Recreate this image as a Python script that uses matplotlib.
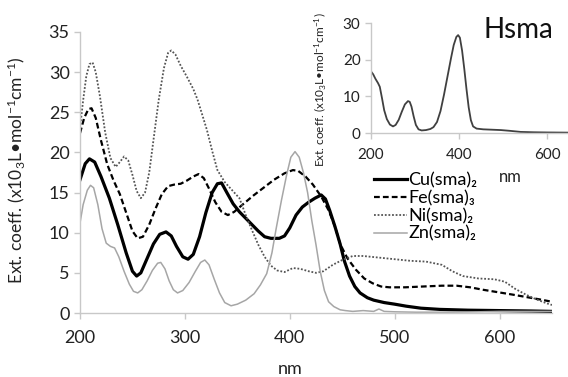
import matplotlib
matplotlib.use("Agg")
import matplotlib.pyplot as plt

plt.rcParams['font.family'] = ['Lato', 'DejaVu Sans']
plt.rcParams['mathtext.fontset'] = 'custom'
plt.rcParams['mathtext.rm'] = 'Lato'
plt.rcParams['mathtext.it'] = 'Lato'
plt.rcParams['mathtext.bf'] = 'Lato:bold'
plt.rcParams['mathtext.fallback'] = 'stixsans'

# ---- data (nm, extinction coefficient x10^3) ----
cu_nm = [200, 205, 209, 214, 220, 228, 236, 244, 250, 254, 258, 264, 270, 276, 282, 287, 292, 298,
         303, 308, 314, 320, 326, 331, 335, 340, 346, 352, 358, 364, 370, 376, 382, 390, 395, 400,
         406, 412, 418, 424, 430, 434, 438, 443, 448, 452, 457, 462, 467, 474, 480, 490, 500, 511,
         525, 543, 570, 600, 630, 650]
cu_val = [16.6, 18.6, 19.2, 18.8, 17.0, 14.3, 11.0, 7.5, 5.2, 4.6, 5.0, 6.8, 8.6, 9.8, 10.1, 9.6, 8.3, 7.0,
          6.7, 7.3, 9.5, 12.5, 15.0, 16.1, 16.2, 15.0, 13.6, 12.6, 11.8, 11.0, 10.2, 9.5, 9.3, 9.3, 9.6, 10.6,
          12.2, 13.2, 13.8, 14.3, 14.7, 14.2, 12.8, 10.8, 8.6, 6.5, 4.6, 3.3, 2.5, 1.9, 1.6, 1.3, 1.1, 0.85,
          0.6, 0.45, 0.35, 0.3, 0.25, 0.2]

fe_nm = [200, 204, 208, 211, 215, 220, 226, 232, 238, 244, 250, 255, 260, 266, 272, 278, 284, 290, 296,
         302, 308, 313, 318, 323, 329, 335, 341, 347, 355, 365, 375, 385, 395, 403, 408, 415, 422, 430,
         437, 443, 448, 455, 463, 471, 479, 487, 495, 510, 527, 545, 559, 572, 584, 598, 612, 625, 638, 650]
fe_val = [22.4, 24.3, 25.4, 25.5, 24.3, 21.5, 18.5, 16.5, 14.8, 12.5, 10.2, 9.3, 9.5, 11.0, 13.0, 14.8, 15.8,
          16.0, 16.1, 16.5, 17.0, 17.3, 16.8, 15.5, 13.8, 12.6, 12.2, 12.6, 13.5, 14.6, 15.6, 16.6, 17.4,
          17.8, 17.7, 17.0, 16.0, 14.5, 12.8, 10.8, 8.6, 6.8, 5.4, 4.3, 3.7, 3.3, 3.2, 3.2, 3.3, 3.4, 3.4,
          3.2, 2.9, 2.6, 2.3, 2.0, 1.7, 1.4]

ni_nm = [200, 203, 206, 209, 212, 215, 219, 224, 229, 234, 238, 242, 246, 250, 254, 258, 262, 266, 270,
         275, 280, 284, 287, 291, 296, 302, 308, 312, 317, 321, 326, 331, 338, 345, 352, 358, 364, 370,
         376, 382, 388, 395, 403, 410, 418, 425, 432, 441, 450, 460, 470, 485, 500, 515, 530, 545, 555,
         565, 580, 595, 605, 615, 625, 635, 645, 650]
ni_val = [23.0, 26.5, 29.5, 31.0, 31.2, 30.0, 27.0, 22.5, 19.3, 18.2, 18.8, 19.5, 19.0, 17.2, 15.2, 14.3,
          15.0, 17.5, 21.5, 26.5, 30.5, 32.4, 32.7, 32.2, 30.8, 29.4, 27.9, 26.6, 24.5, 22.8, 20.2, 17.8,
          16.3, 15.3, 14.3, 12.2, 10.3, 8.5, 7.0, 5.9, 5.3, 5.1, 5.6, 5.5, 5.2, 5.0, 5.2, 6.0, 6.6, 7.1,
          7.1, 6.9, 6.7, 6.5, 6.4, 6.0, 5.2, 4.6, 4.3, 4.2, 3.9, 3.0, 2.3, 1.7, 1.2, 1.0]

zn_nm = [200, 203, 207, 210, 213, 217, 221, 225, 229, 233, 237, 242, 247, 251, 255, 259, 264, 269, 274,
         277, 281, 285, 289, 293, 298, 304, 310, 315, 319, 323, 328, 333, 338, 344, 350, 358, 366, 372,
         378, 383, 387, 392, 397, 401, 405, 409, 413, 417, 421, 425, 429, 433, 437, 442, 448, 453, 460,
         470, 480, 485, 490, 500, 520, 550, 580, 600, 625, 650]
zn_val = [11.2, 13.5, 15.3, 15.9, 15.6, 13.5, 10.5, 8.7, 8.3, 8.1, 7.0, 5.2, 3.6, 2.7, 2.5, 2.9, 4.0, 5.3,
          6.2, 6.3, 5.5, 4.0, 2.9, 2.5, 2.8, 3.8, 5.2, 6.3, 6.6, 6.0, 4.2, 2.5, 1.3, 0.9, 1.1, 1.6, 2.4,
          3.5, 4.9, 7.5, 10.5, 14.0, 17.2, 19.4, 20.1, 19.4, 17.5, 15.0, 11.5, 8.5, 5.2, 2.8, 1.4, 0.8,
          0.4, 0.3, 0.2, 0.3, 0.2, 0.5, 0.2, 0.15, 0.1, 0.1, 0.15, 0.2, 0.2, 0.2]

hsma_nm = [200, 205, 210, 216, 220, 225, 230, 236, 243, 250, 256, 263, 270, 277, 284, 288, 292, 297, 302,
           308, 315, 325, 335, 342, 350, 358, 366, 374, 382, 388, 394, 398, 402, 407, 412, 417, 422, 427,
           432, 440, 455, 475, 495, 515, 540, 570, 600, 650]
hsma_val = [16.8, 16.0, 14.8, 13.6, 12.6, 9.5, 6.2, 3.8, 2.3, 1.8, 2.2, 3.6, 5.8, 7.8, 8.7, 8.5, 7.2, 4.5,
            2.2, 1.0, 0.7, 0.8, 1.1, 1.6, 3.0, 6.0, 10.5, 15.5, 20.5, 24.0, 26.2, 26.7, 26.0, 22.5, 17.5,
            12.0, 7.0, 3.5, 1.8, 1.2, 1.0, 0.9, 0.8, 0.6, 0.3, 0.2, 0.15, 0.1]

labels = ['Cu(sma)₂', 'Fe(sma)₃', 'Ni(sma)₂', 'Zn(sma)₂']
main_xticks = [200, 300, 400, 500, 600]
main_yticks = [0, 5, 10, 15, 20, 25, 30, 35]
inset_xticks = [200, 400, 600]
inset_yticks = [0, 10, 20, 30]

W, H = 568, 377
fig = plt.figure(figsize=(W / 100, H / 100), dpi=100)
fig.patch.set_facecolor('white')

spine_col = '#c8c8c8'

def style_axes(ax, fs):
    for s in ['top', 'right']:
        ax.spines[s].set_visible(False)
    for s in ['left', 'bottom']:
        ax.spines[s].set_color(spine_col)
        ax.spines[s].set_linewidth(1.0)
    ax.tick_params(axis='both', colors=spine_col, labelcolor='#222222', labelsize=fs,
                   direction='out', length=4, width=1.0)

# main axes
ax = fig.add_axes([80 / W, 1 - 313 / H, (552 - 80) / W, (313 - 32) / H])
ax.plot(cu_nm, cu_val, color='black', lw=2.3, label=labels[0], solid_joinstyle='round')
ax.plot(fe_nm, fe_val, color='black', lw=1.6, linestyle=(0, (2.6, 1.4)), label=labels[1])
ax.plot(ni_nm, ni_val, color='#555555', lw=1.3, linestyle=(0, (1, 1)), label=labels[2])
ax.plot(zn_nm, zn_val, color='#a6a6a6', lw=1.1, label=labels[3])
ax.set_xlim(200, 650)
ax.set_ylim(0, 35)
ax.set_xticks(main_xticks)
ax.set_yticks(main_yticks)
style_axes(ax, 13)
ax.tick_params(axis='x', pad=8)
ax.set_xlabel('nm', fontsize=13, color='#222222')
ax.xaxis.set_label_coords((290 - 80) / (552 - 80), -0.17)
ax.set_ylabel('Ext. coeff. (x10$_3$L•mol$^{-1}$cm$^{-1}$)', fontsize=12.5, color='#222222')
ax.yaxis.set_label_coords(-0.112, 0.51)

leg = ax.legend(loc='upper left', bbox_to_anchor=(374 / W, 1 - 172 / H), bbox_transform=fig.transFigure,
                frameon=False, fontsize=13, handlelength=1.8, handletextpad=0.1,
                labelspacing=0.1, borderaxespad=0, borderpad=0)

# inset axes
ax2 = fig.add_axes([371 / W, 1 - 133 / H, (569 - 371) / W, (133 - 23) / H])
ax2.set_facecolor('white')
ax2.plot(hsma_nm, hsma_val, color='#404040', lw=1.3)
ax2.set_xlim(200, 650)
ax2.set_ylim(0, 30)
ax2.set_xticks(inset_xticks)
ax2.set_yticks(inset_yticks)
style_axes(ax2, 11)
ax2.tick_params(axis='x', pad=7)
ax2.set_xlabel('nm', fontsize=12, color='#222222')
ax2.xaxis.set_label_coords((510 - 371) / 198, -0.33)
ax2.set_ylabel('Ext. coeff. (x10$_3$L•mol$^{-1}$cm$^{-1}$)', fontsize=8.5, color='#222222')
ax2.yaxis.set_label_coords(-0.215, 0.39)
fig.text(483 / W, 1 - 38 / H, 'Hsma', fontsize=20, color='#111111', ha='left', va='baseline')

fig.savefig('out.png', dpi=100, facecolor='white')
